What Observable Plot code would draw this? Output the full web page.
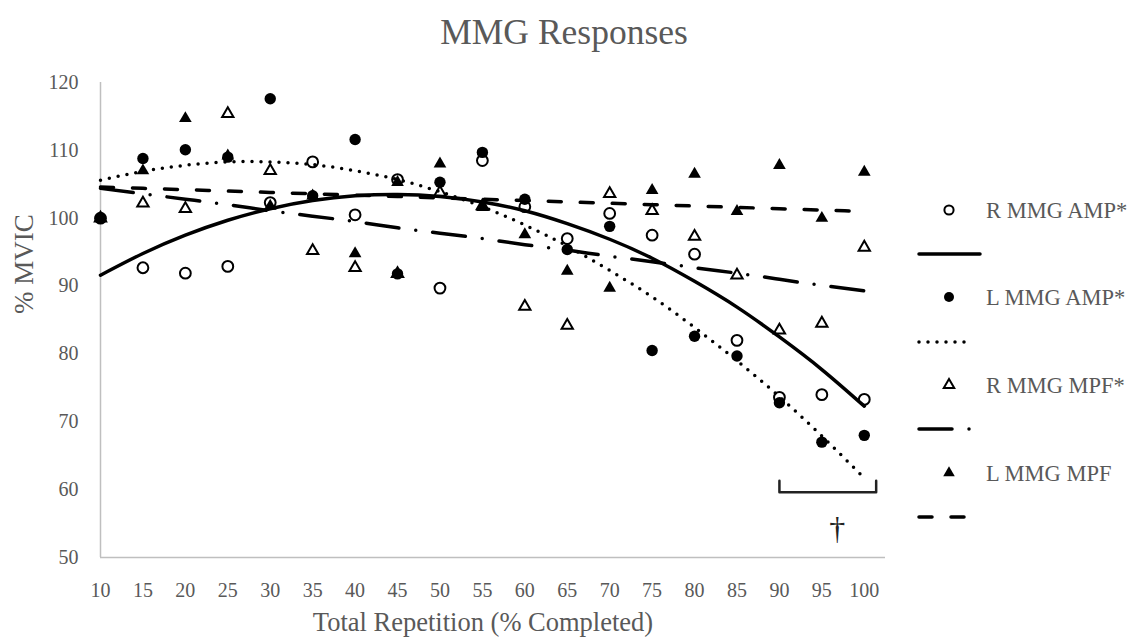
<!DOCTYPE html>
<html>
<head>
<meta charset="utf-8">
<script src="https://cdn.jsdelivr.net/npm/d3@7"></script>
<script src="https://cdn.jsdelivr.net/npm/@observablehq/plot@0.6"></script>
<style>
  html, body { margin: 0; padding: 0; background: white; }
  #wrap { position: relative; width: 1129px; height: 643px; overflow: hidden; font-family: 'Liberation Serif', serif; }
  #title { position: absolute; left: 0; top: 0; }
  #chart { position: absolute; left: 0; top: 60px; }
  #legend { position: absolute; left: 0; top: 0; pointer-events: none; }
</style>
</head>
<body>
<div id="wrap">
  <svg id="title" width="1129" height="60"></svg>
  <div id="chart"></div>
  <svg id="legend" width="1129" height="643"></svg>
</div>
<script>
// ---- data ----
const xCats = [10, 15, 20, 25, 30, 35, 40, 45, 50, 55, 60, 65, 70, 75, 80, 85, 90, 95, 100];
const yTicks = [50, 60, 70, 80, 90, 100, 110, 120];
const seriesNames = ["R MMG AMP*", "L MMG AMP*", "R MMG MPF*", "L MMG MPF"];

const rAmp = [100, 92.7, 91.9, 92.9, 102.3, 108.3, 100.5, 105.7, 89.7, 108.5, 101.7, 97.0, 100.7, 97.5, 94.7, 82.0, 73.6, 74.0, 73.3];
const lAmp = [100, 108.8, 110.1, 109.0, 117.6, 103.3, 111.6, 91.8, 105.3, 109.7, 102.8, 95.4, 98.8, 80.5, 82.6, 79.7, 72.8, 67.0, 68.0];
const rMpf = [100, 102.2, 101.4, 115.4, 107.0, 95.2, 92.7, 91.8, 103.8, 101.8, 87.0, 84.2, 103.6, 101.1, 97.3, 91.6, 83.5, 84.5, 95.7];
const lMpf = [100, 107.0, 114.7, 109.2, 101.8, 103.3, 94.8, 105.3, 108.0, 101.6, 97.6, 92.2, 89.7, 104.1, 106.5, 101.0, 107.8, 100.0, 106.8];

// trendlines (polynomial trendlines as drawn in the reference, read at each category)
const rAmpTrend = [91.6, 94.8, 97.5, 99.7, 101.4, 102.6, 103.3, 103.5, 103.2, 102.4, 101.1, 99.2, 96.9, 94.1, 90.7, 86.9, 82.5, 77.7, 72.3];
const lAmpTrend = [105.6, 106.9, 107.8, 108.3, 108.3, 107.9, 107.0, 105.7, 103.9, 101.7, 99.0, 95.9, 92.3, 88.4, 83.9, 79.0, 73.7, 67.9, 61.7];
const rMpfTrend = [104.4, 103.6, 102.8, 102.0, 101.1, 100.3, 99.5, 98.6, 97.8, 97.0, 96.1, 95.3, 94.4, 93.6, 92.7, 91.9, 91.0, 90.1, 89.3];
const lMpfTrend = [104.6, 104.4, 104.2, 104.0, 103.8, 103.6, 103.4, 103.2, 103.0, 102.8, 102.6, 102.4, 102.2, 102.0, 101.8, 101.6, 101.4, 101.2, 101.0];

// significance bracket annotation
const bracketX = [90, 90, 101.4, 101.4];
const bracketY = [61.3, 59.6, 59.6, 61.3];
const daggerX = [96.8];
const daggerY = [54.3];
const daggerText = ["\u2020"];

const titleText = "MMG Responses";
const xTitle = "Total Repetition (% Completed)";
const yTitle = "% MVIC";

// ---- styles ----
const TXT = "#595959";
const AXIS = "#bfbfbf";
const dashDotted = "0,9";
const dashDashDot = "33,17,0,17";
const dashDashed = "13,19";

const toPts = (arr) => xCats.map((x, i) => ({x, y: arr[i]}));
const bracket = bracketX.map((x, i) => ({x, y: bracketY[i]}));
const dagger = daggerX.map((x, i) => ({x, y: daggerY[i], t: daggerText[i]}));

const lineOpts = {x: "x", y: "y", stroke: "black", strokeWidth: 3.5, strokeLinecap: "round", curve: "natural"};

const chart = Plot.plot({
  width: 905,
  height: 583,
  marginTop: 22,
  marginBottom: 86,
  marginLeft: 100,
  marginRight: 20,
  style: {fontFamily: "'Liberation Serif', serif", fontSize: "20px", color: TXT, background: "white", overflow: "visible"},
  x: {domain: [10, 102.5]},
  y: {domain: [50, 120]},
  marks: [
    Plot.axisX({ticks: xCats, tickSize: 0, tickPadding: 25, label: null}),
    Plot.axisY({ticks: yTicks, tickSize: 0, tickPadding: 22, label: null}),
    Plot.ruleX([10], {stroke: AXIS, strokeWidth: 1.5}),
    Plot.ruleY([50], {stroke: AXIS, strokeWidth: 1.5}),
    Plot.dot(toPts(rAmp), {x: "x", y: "y", symbol: "circle", r: 5.4, stroke: "black", strokeWidth: 2, fill: "none"}),
    Plot.dot(toPts(lAmp), {x: "x", y: "y", symbol: "circle", r: 5.7, fill: "black", stroke: "none"}),
    Plot.dot(toPts(rMpf), {x: "x", y: "y", symbol: "triangle", r: 4.2, stroke: "black", strokeWidth: 2, fill: "none"}),
    Plot.dot(toPts(lMpf), {x: "x", y: "y", symbol: "triangle", r: 4.7, fill: "black", stroke: "none"}),
    Plot.line(toPts(rAmpTrend), {...lineOpts}),
    Plot.line(toPts(lAmpTrend), {...lineOpts, strokeDasharray: dashDotted}),
    Plot.line(toPts(rMpfTrend), {...lineOpts, strokeDasharray: dashDashDot}),
    Plot.line(toPts(lMpfTrend), {...lineOpts, strokeDasharray: dashDashed}),
    Plot.line(bracket, {x: "x", y: "y", stroke: "#222", strokeWidth: 2.5}),
    Plot.text(dagger, {x: "x", y: "y", text: "t", fontSize: 32, fill: "#222"}),
    Plot.text([xTitle], {frameAnchor: "bottom", dx: -10, dy: 73, fontSize: 26.5, fill: TXT}),
    Plot.text([yTitle], {frameAnchor: "left", rotate: -90, dx: -76, dy: -6, fontSize: 27, fill: TXT})
  ]
});
document.getElementById("chart").appendChild(chart);

// ---- title ----
const t = d3.select("#title");
t.append("text").attr("x", 564).attr("y", 44).attr("text-anchor", "middle")
  .attr("font-family", "'Liberation Serif', serif").attr("font-size", 35.5).attr("fill", TXT).text(titleText);

// ---- legend ----
const lg = d3.select("#legend");
const rowY = [210, 297, 385, 473];
const lineY = [254, 342, 429, 517];
const dashes = [null, dashDotted, dashDashDot, dashDashed];
const lineEnd = [980, 973, 975, 966];
const symbols = [d3.symbolCircle, d3.symbolCircle, d3.symbolTriangle, d3.symbolTriangle];
const filled = [false, true, false, true];
const sizes = [Math.PI * 4.6 * 4.6, Math.PI * 5 * 5, Math.PI * 3.9 * 3.9, Math.PI * 4.3 * 4.3];
seriesNames.forEach((name, i) => {
  lg.append("path")
    .attr("d", d3.symbol(symbols[i], sizes[i])())
    .attr("transform", `translate(949,${rowY[i]})`)
    .attr("fill", filled[i] ? "black" : "none")
    .attr("stroke", filled[i] ? "none" : "black")
    .attr("stroke-width", 2);
  lg.append("text").attr("x", 986).attr("y", rowY[i] + 7.5)
    .attr("font-family", "'Liberation Serif', serif").attr("font-size", 22.5).attr("fill", TXT).text(name);
  const ln = lg.append("line").attr("x1", 919).attr("x2", lineEnd[i])
    .attr("y1", lineY[i]).attr("y2", lineY[i])
    .attr("stroke", "black").attr("stroke-width", 3.5).attr("stroke-linecap", "round");
  if (dashes[i]) ln.attr("stroke-dasharray", dashes[i]);
});
</script>
</body>
</html>
